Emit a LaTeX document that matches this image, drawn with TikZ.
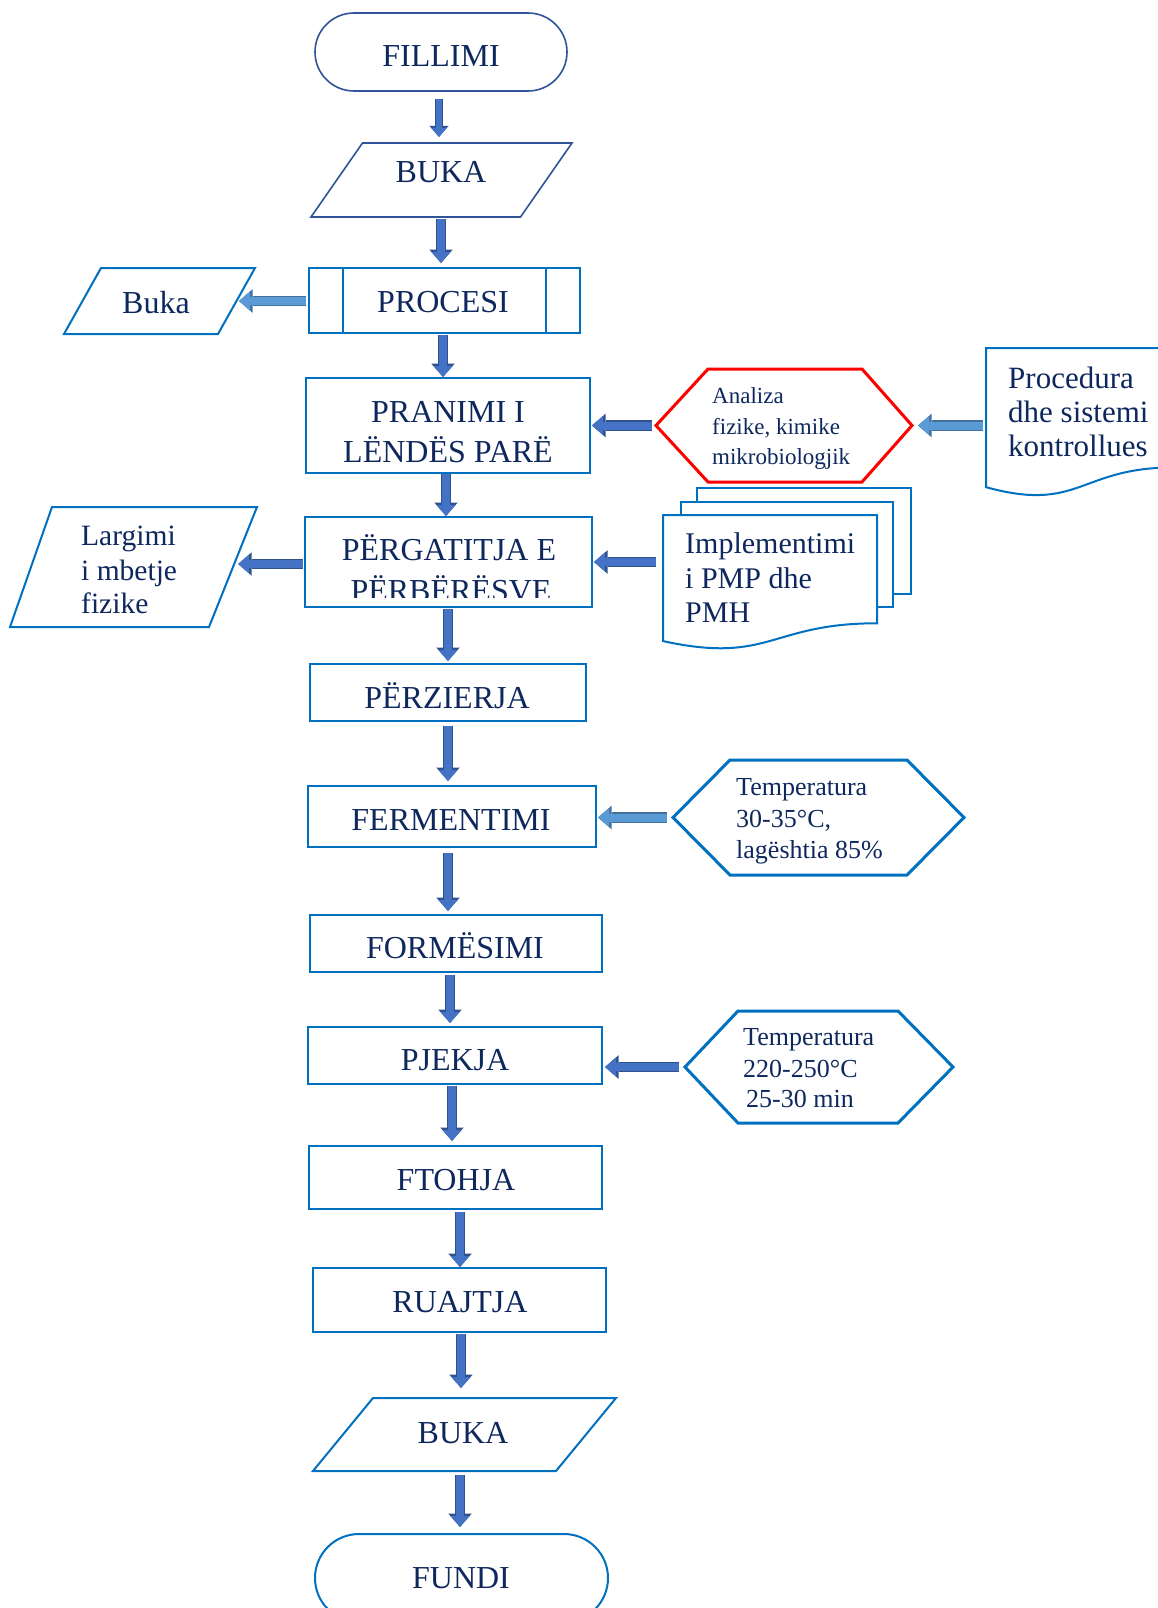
\documentclass[tikz,border=0pt]{standalone}
\usepackage{fontspec}
\setmainfont{Liberation Serif}
\usetikzlibrary{arrows.meta,shapes.misc,calc}
\definecolor{navy}{RGB}{14,40,94}
\definecolor{bblue}{RGB}{0,112,192}
\definecolor{dblue}{RGB}{47,85,151}
\definecolor{afill}{RGB}{68,114,196}
\definecolor{aedge}{RGB}{47,82,143}
\definecolor{lfill}{RGB}{91,155,213}
\definecolor{ledge}{RGB}{65,113,156}
\definecolor{hred}{RGB}{255,0,0}
\begin{document}
\begin{tikzpicture}[x=1pt,y=-1pt,
  box/.style={draw=bblue, line width=2pt, rectangle, inner sep=0pt, outer sep=0pt},
  frame/.style={rectangle, inner sep=0pt, outer sep=0pt},
  term/.style={rounded rectangle, inner sep=0pt, outer sep=0pt, line width=1.6pt},
  outl/.style={draw=bblue, line width=2pt, line join=miter},
  hexl/.style={draw=bblue, line width=3pt, line join=miter},
  lab/.style={text=navy, inner sep=0pt, anchor=base, font=\fontsize{32}{40}\selectfont},
  labl/.style={text=navy, inner sep=0pt, anchor=base west},
  blk/.style={line width=8pt, draw=afill, -{Triangle[length=11pt,width=19pt,line width=0pt]},
    preaction={draw=aedge, line width=10.5pt, -{Triangle[length=13.5pt,width=23.5pt,line width=0pt]}}},
  lblk/.style={line width=8pt, draw=lfill, -{Triangle[length=11pt,width=19pt,line width=0pt]},
    preaction={draw=ledge, line width=10.5pt, -{Triangle[length=13.5pt,width=23.5pt,line width=0pt]}}},
  tblk/.style={line width=6pt, draw=afill, -{Triangle[length=9pt,width=15pt,line width=0pt]},
    preaction={draw=aedge, line width=8pt, -{Triangle[length=11pt,width=19pt,line width=0pt]}}}
]
\useasboundingbox (0,0) rectangle (1157,1608);
\fill[white] (0,0) rectangle (1157,1608);

% ---- main column ----
\node[term, draw=dblue, minimum width=252pt, minimum height=78pt] (fil) at (441,52) {};
\node[lab] (filT) at (441,67) {FILLIMI};

\node[frame, minimum width=261pt, minimum height=74pt] (bukaA) at (441.5,180) {};
\draw[draw=dblue, line width=1.6pt, line join=miter] ([xshift=51.5pt]bukaA.north west) -- (bukaA.north east)
  -- ([xshift=-51.5pt]bukaA.south east) -- (bukaA.south west) -- cycle;
\node[lab] (bukaAT) at (441,183) {BUKA};

\node[box, minimum width=271pt, minimum height=65pt] (proc) at (444.5,300.5) {};
\draw[outl] ([xshift=34pt]proc.north west) -- ([xshift=34pt]proc.south west);
\draw[outl] ([xshift=-34pt]proc.north east) -- ([xshift=-34pt]proc.south east);
\node[lab] (procT) at (443,312) {PROCESI};

\node[frame, minimum width=191pt, minimum height=66pt] (bukaL) at (159.5,301) {};
\draw[outl] ([xshift=37pt]bukaL.north west) -- (bukaL.north east)
  -- ([xshift=-37pt]bukaL.south east) -- (bukaL.south west) -- cycle;
\coordinate (bukaLr) at ($(bukaL.north east)!0.5!([xshift=-37pt]bukaL.south east)$);
\node[lab] (bukaLT) at (156,313) {Buka};

\node[box, minimum width=284pt, minimum height=95pt] (pran) at (448,425.5) {};
\node[lab] (pranT1) at (448,422) {PRANIMI I};
\node[lab] (pranT2) at (448,462) {LËNDËS PARË};

\node[box, minimum width=287pt, minimum height=90pt] (perg) at (448.5,562) {};
\node[lab] (pergT1) at (449,560) {PËRGATITJA E};
\begin{scope}
  \clip (305,517) rectangle (592,597);
  \node[lab] (pergT2) at (451,601) {PËRBËRËSVE};
\end{scope}

\node[frame, minimum width=247pt, minimum height=120pt] (larg) at (133.5,567) {};
\draw[outl] ([xshift=42pt]larg.north west) -- (larg.north east)
  -- ([xshift=-48pt]larg.south east) -- (larg.south west) -- cycle;
\coordinate (largR) at ($(larg.north east)!0.475!([xshift=-48pt]larg.south east)$);
\node[labl, font=\fontsize{29.5}{34}\selectfont] (largT1) at (81,545) {Largimi};
\node[labl, font=\fontsize{29.5}{34}\selectfont] (largT2) at (81,580) {i mbetje};
\node[labl, font=\fontsize{29.5}{34}\selectfont] (largT3) at (81,613) {fizike};

\node[box, minimum width=276pt, minimum height=57pt] (perz) at (448,692.5) {};
\node[lab] (perzT) at (447,708) {PËRZIERJA};

\node[box, minimum width=288pt, minimum height=61pt] (ferm) at (452,816.5) {};
\node[lab] (fermT) at (451,830) {FERMENTIMI};

\node[box, minimum width=292pt, minimum height=57pt] (form) at (456,943.5) {};
\node[lab] (formT) at (455,958) {FORMËSIMI};

\node[box, minimum width=294pt, minimum height=57pt] (pjek) at (455,1055.5) {};
\node[lab] (pjekT) at (455,1070) {PJEKJA};

\node[box, minimum width=293pt, minimum height=63pt] (ftoh) at (455.5,1177.5) {};
\node[lab] (ftohT) at (456,1190) {FTOHJA};

\node[box, minimum width=293pt, minimum height=64pt] (ruaj) at (459.5,1300) {};
\node[lab] (ruajT) at (460,1312) {RUAJTJA};

\node[frame, minimum width=303pt, minimum height=73pt] (bukaB) at (464.5,1434.5) {};
\draw[outl] ([xshift=60pt]bukaB.north west) -- (bukaB.north east)
  -- ([xshift=-60pt]bukaB.south east) -- (bukaB.south west) -- cycle;
\node[lab] (bukaBT) at (463,1443) {BUKA};

\node[term, draw=bblue, line width=2pt, minimum width=293pt, minimum height=88pt] (fund) at (461.5,1578) {};
\node[lab] (fundT) at (461,1588) {FUNDI};

% ---- right side ----
\node[frame, minimum width=256pt, minimum height=113pt] (rhex) at (784,425.5) {};
\draw[draw=hred, line width=3pt, line join=miter] (rhex.west) -- ([xshift=52pt]rhex.north west)
  -- ([xshift=-50pt]rhex.north east) -- (rhex.east) -- ([xshift=-50pt]rhex.south east)
  -- ([xshift=52pt]rhex.south west) -- cycle;
\node[labl, font=\fontsize{23}{31}\selectfont] (rhexT1) at (712,403) {Analiza};
\node[labl, font=\fontsize{23}{31}\selectfont] (rhexT2) at (712,434) {fizike, kimike};
\node[labl, font=\fontsize{23}{31}\selectfont] (rhexT3) at (712,464) {mikrobiologjik};

\node[frame, minimum width=187pt, minimum height=149pt] (pdoc) at (1079.5,422.5) {};
\draw[outl] (pdoc.north west) -- (pdoc.north east) -- ($(pdoc.north east)!0.802!(pdoc.south east)$)
  .. controls ($(pdoc.north)!0.802!(pdoc.south)$) and ($(pdoc.north)!1.107!(pdoc.south)$)
  .. ($(pdoc.north west)!0.934!(pdoc.south west)$) -- cycle;
\node[labl, font=\fontsize{31}{34}\selectfont] (pdocT1) at (1008,388) {Procedura};
\node[labl, font=\fontsize{31}{34}\selectfont] (pdocT2) at (1008,422) {dhe sistemi};
\node[labl, font=\fontsize{31}{34}\selectfont] (pdocT3) at (1008,456) {kontrollues};

\node[frame, minimum width=214pt, minimum height=135pt] (impl) at (770,582.5) {};
\draw[outl] ([xshift=34pt,yshift=13pt]impl.north west) -- ++(0,-14) -- ++(214,0) -- ++(0,106) -- ++(-18,0);
\draw[outl] ([xshift=18pt]impl.north west) -- ++(0,-13) -- ++(212,0) -- ++(0,105) -- ++(-16,0);
\draw[outl] (impl.north west) -- (impl.north east) -- ($(impl.north east)!0.802!(impl.south east)$)
  .. controls ($(impl.north)!0.802!(impl.south)$) and ($(impl.north)!1.107!(impl.south)$)
  .. ($(impl.north west)!0.934!(impl.south west)$) -- cycle;
\node[labl, font=\fontsize{30}{34}\selectfont] (implT1) at (685,553) {Implementimi};
\node[labl, font=\fontsize{30}{34}\selectfont] (implT2) at (685,588) {i PMP dhe};
\node[labl, font=\fontsize{30}{34}\selectfont] (implT3) at (685,622) {PMH};

\node[frame, minimum width=291pt, minimum height=115pt] (hexA) at (818.5,817.5) {};
\draw[hexl] (hexA.west) -- ([xshift=57pt]hexA.north west) -- ([xshift=-57pt]hexA.north east)
  -- (hexA.east) -- ([xshift=-57pt]hexA.south east) -- ([xshift=57pt]hexA.south west) -- cycle;
\node[labl, font=\fontsize{26}{31}\selectfont] (hexAT1) at (736,795) {Temperatura};
\node[labl, font=\fontsize{26}{31}\selectfont] (hexAT2) at (736,827) {30-35°C,};
\node[labl, font=\fontsize{26}{31}\selectfont] (hexAT3) at (736,858) {lagështia 85\%};

\node[frame, minimum width=268pt, minimum height=112pt] (hexB) at (819,1067) {};
\draw[hexl] (hexB.west) -- ([xshift=53pt]hexB.north west) -- ([xshift=-55pt]hexB.north east)
  -- (hexB.east) -- ([xshift=-55pt]hexB.south east) -- ([xshift=53pt]hexB.south west) -- cycle;
\node[labl, font=\fontsize{26}{31}\selectfont] (hexBT1) at (743,1045) {Temperatura};
\node[labl, font=\fontsize{26}{31}\selectfont] (hexBT2) at (743,1077) {220-250°C};
\node[labl, font=\fontsize{26}{31}\selectfont] (hexBT3) at (746,1107) {25-30 min};

% ---- connectors ----
\draw[tblk, shorten <=8pt, shorten >=6pt] (fil.south -| 439,0) -- (bukaA.north -| 439,0);
\draw[blk, shorten <=2pt, shorten >=5pt] (bukaA.south -| 441,0) -- (proc.north -| 441,0);
\draw[blk, shorten <=2pt, shorten >=1pt] (proc.south -| 443,0) -- (pran.north -| 443,0);
\draw[blk, shorten <=1pt, shorten >=1pt] (pran.south -| 446,0) -- (perg.north -| 446,0);
\draw[blk, shorten <=2pt, shorten >=3pt] (perg.south -| 448,0) -- (perz.north -| 448,0);
\draw[blk, shorten <=5pt, shorten >=5pt] (perz.south -| 448,0) -- (ferm.north -| 448,0);
\draw[blk, shorten <=6pt, shorten >=4pt] (ferm.south -| 448,0) -- (form.north -| 448,0);
\draw[blk, shorten <=3pt, shorten >=4pt] (form.south -| 450,0) -- (pjek.north -| 450,0);
\draw[blk, shorten <=2pt, shorten >=5pt] (pjek.south -| 452,0) -- (ftoh.north -| 452,0);
\draw[blk, shorten <=3pt, shorten >=1pt] (ftoh.south -| 460,0) -- (ruaj.north -| 460,0);
\draw[blk, shorten <=2pt, shorten >=10pt] (ruaj.south -| 461,0) -- (bukaB.north -| 461,0);
\draw[blk, shorten <=4pt, shorten >=7pt] (bukaB.south -| 460,0) -- (fund.north -| 460,0);

\draw[lblk, shorten <=3pt, shorten >=2.5pt] (proc.west |- bukaLr) -- (bukaLr);
\draw[blk, shorten <=4pt, shorten >=2pt] (rhex.west) -- (pran.east |- rhex.west);
\draw[lblk, shorten <=3pt, shorten >=6pt] (pdoc.west |- rhex.east) -- (rhex.east);
\draw[blk, shorten <=2pt, shorten >=4pt] (perg.west |- largR) -- (largR);
\draw[blk, shorten <=7pt, shorten >=2pt] (impl.west |- 0,562) -- (perg.east |- 0,562);
\draw[lblk, shorten <=6pt, shorten >=2pt] (hexA.west) -- (ferm.east |- hexA.west);
\draw[blk, shorten <=6pt, shorten >=3pt] (hexB.west) -- (pjek.east |- hexB.west);
\end{tikzpicture}
\end{document}
